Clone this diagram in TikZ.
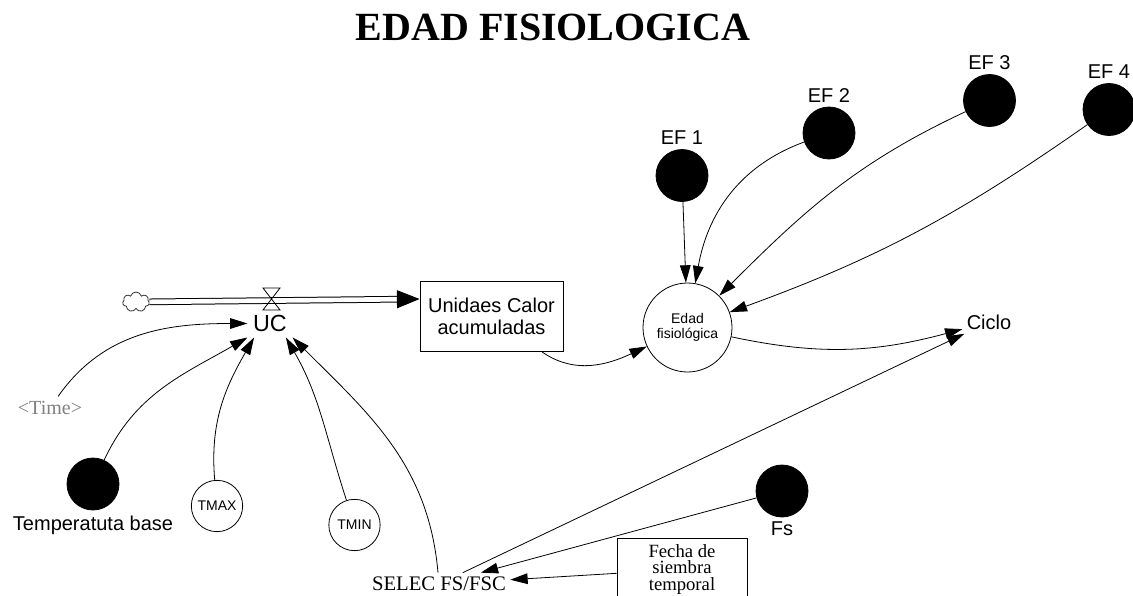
\documentclass[tikz,border=0pt]{standalone}
\usepackage{fontspec}
\setmainfont{Liberation Sans}
\newfontfamily\timesfont{Liberation Serif}
\usepackage{tikz}
\usetikzlibrary{positioning}
\usetikzlibrary{arrows.meta}
\usetikzlibrary{shapes.symbols}

\begin{document}
\begin{tikzpicture}[
  x=0.75pt, y=0.75pt,
  line width=0.6pt,
  node distance=2pt,
  >={Triangle[length=13pt,width=8pt]},
  constnode/.style={draw,circle,fill=black,minimum size=39pt,inner sep=0pt},
  auxnode/.style={draw,circle,minimum size=38.5pt,inner sep=0pt,align=center,font=\fontsize{10.5}{11}\selectfont},
  varnode/.style={inner sep=3pt,font=\fontsize{15}{17}\selectfont},
  levelnode/.style={draw,rectangle,align=center,inner sep=2pt},
  pipe/.style={double distance=3.5pt,line width=0.75pt,-{Triangle[length=17pt,width=13.5pt]}}
]

\useasboundingbox (0,0) rectangle (1133,-596);

\node[font=\timesfont\bfseries\fontsize{30}{34}\selectfont] (title) at (553,-27) {EDAD FISIOLOGICA};

\node[cloud, draw=black!80, cloud puffs=7, aspect=1.3, minimum width=20pt, minimum height=15pt, inner sep=0pt] (cloud) at (136,-302) {};
\coordinate (valve) at (271.5,-299);
\node[levelnode, minimum width=107.25pt, minimum height=52.5pt, font=\fontsize{15}{17}\selectfont] (ucal) at (491.5,-316.5) {Unidaes Calor\\acumuladas};
\node[varnode, inner sep=4pt, font=\fontsize{17.5}{20}\selectfont] (uc) at (270,-323.5) {UC};

\node[auxnode, minimum size=66.75pt] (edad) at (687.5,-327.5) {Edad\\fisiológica};
\node[varnode] (ciclo) at (989,-322) {Ciclo};

\node[constnode] (ef1) at (682,-175.5) {};
\node[constnode] (ef2) at (829,-133) {};
\node[constnode] (ef3) at (989.5,-100.5) {};
\node[constnode] (ef4) at (1109,-109.5) {};
\node[varnode, above=of ef1, inner sep=1pt] (ef1lbl) {EF 1};
\node[varnode, above=of ef2, inner sep=1pt] (ef2lbl) {EF 2};
\node[varnode, above=of ef3, inner sep=1pt] (ef3lbl) {EF 3};
\node[varnode, above=of ef4, inner sep=1pt] (ef4lbl) {EF 4};

\node[font=\timesfont\fontsize{15}{17}\selectfont, text=gray] (time) at (50,-408) {<Time>};
\node[constnode] (tbase) at (93,-484) {};
\node[varnode, below=3pt of tbase, inner sep=1pt] (tbaselbl) {Temperatuta base};
\node[auxnode] (tmax) at (217,-506) {TMAX};
\node[auxnode] (tmin) at (354.5,-525) {TMIN};

\node[varnode, font=\timesfont\fontsize{15.5}{17}\selectfont] (selec) at (439,-584) {SELEC FS/FSC};
\node[constnode] (fs) at (782,-491) {};
\node[varnode, below=of fs, inner sep=1pt] (fslbl) {Fs};
\node[levelnode, anchor=north, minimum width=97.5pt, minimum height=46.5pt, font=\timesfont\fontsize{14}{12.5}\selectfont] (fecha) at (682,-538) {Fecha de\\siembra\\temporal};

\draw[pipe] (cloud) -- (valve -| ucal.west);
\draw (valve) -- ++(-8.5,11) -- ++(17,0) -- cycle;
\draw (valve) -- ++(-8.5,-11) -- ++(17,0) -- cycle;

\path (time) edge[->, out=55, in=180] (uc.west)
(tbase) edge[->, out=65, in=210] (uc.south west)
(tmax) edge[->, out=95, in=240] ([xshift=5pt]uc.south west)
(tmin) edge[->, out=108, in=-60] ([xshift=-5pt]uc.south east)
(selec) edge[->, out=95, in=-45] (uc.south east)
(ucal) edge[->, out=-35, in=205] (edad)
;

\path (ef1) edge[->] (edad)
(ef2) edge[->, out=200, in=80] (edad)
(ef3) edge[->, out=205, in=45] (edad)
(ef4) edge[->, out=215, in=20] (edad)
(edad) edge[->, out=-12, in=195] (ciclo)
(selec) edge[->] (ciclo)
;

\path (fs) edge[->] (selec)
(fecha) edge[->] (selec)
;

\end{tikzpicture}
\end{document}
